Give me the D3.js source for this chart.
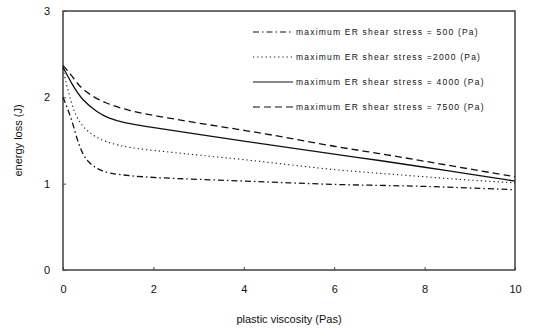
<!DOCTYPE html>
<html>
<head>
<script src="https://d3js.org/d3.v7.min.js"></script>
<style>
  body { margin: 0; background: #fff; }
  text { font-family: "Liberation Sans", Arial, sans-serif; fill: #111; }
  .legend text { font-size: 8.5px; letter-spacing: 1.2px; }
</style>
</head>
<body>
<svg id="chart" width="540" height="328"></svg>
<script>
// values
var visc500  = [0, 0.2, 0.33, 0.5, 0.75, 1, 1.5, 2, 3, 4, 5, 6, 7, 8, 9, 10];
var loss500  = [2.0, 1.74, 1.47, 1.27, 1.17, 1.12, 1.09, 1.07, 1.05, 1.03, 1.01, 0.99, 0.98, 0.97, 0.95, 0.93];

var visc2000 = [0, 0.1, 0.27, 0.55, 0.93, 1.5, 2.3, 3, 4, 5, 6, 7, 8, 9, 10];
var loss2000 = [2.33, 2.1, 1.77, 1.59, 1.48, 1.41, 1.37, 1.33, 1.28, 1.22, 1.16, 1.12, 1.08, 1.04, 1.01];

var visc4000 = [0, 0.2, 0.42, 0.77, 1, 1.3, 2, 3, 4, 5, 6, 7, 8, 9, 10];
var loss4000 = [2.35, 2.15, 1.97, 1.82, 1.76, 1.71, 1.65, 1.57, 1.49, 1.42, 1.34, 1.27, 1.19, 1.11, 1.03];

var visc7500 = [0, 0.2, 0.42, 0.93, 1.5, 2, 3, 4, 5, 6, 7, 8, 9, 10];
var loss7500 = [2.37, 2.25, 2.08, 1.93, 1.84, 1.79, 1.70, 1.62, 1.53, 1.43, 1.35, 1.26, 1.17, 1.08];

var seriesNames = [
  "maximum ER shear stress  =  500 (Pa)",
  "maximum ER shear stress  =2000 (Pa)",
  "maximum ER shear stress  = 4000 (Pa)",
  "maximum ER shear stress  = 7500 (Pa)"
];
var dashes = ["6,3,1.5,3", "1.2,3", null, "7,4"];

var xTicks = [0, 2, 4, 6, 8, 10];
var yTicks = [0, 1, 2, 3];

var svg = d3.select("#chart");
var plotLeft = 63, plotRight = 515, plotTop = 11, plotBottom = 270;

var x = d3.scaleLinear().domain([0, 10]).range([plotLeft, plotRight]);
var y = d3.scaleLinear().domain([0, 3]).range([plotBottom, plotTop]);

// frame
svg.append("rect")
  .attr("x", plotLeft).attr("y", plotTop)
  .attr("width", plotRight - plotLeft).attr("height", plotBottom - plotTop)
  .attr("fill", "none").attr("stroke", "#222").attr("stroke-width", 1.3);

// axes (small inward ticks)
var xAxis = svg.append("g")
  .attr("transform", "translate(0," + plotBottom + ")")
  .call(d3.axisBottom(x).tickValues(xTicks).tickSize(-3).tickPadding(13).tickFormat(d3.format("d")));
var yAxis = svg.append("g")
  .attr("transform", "translate(" + plotLeft + ",0)")
  .call(d3.axisLeft(y).tickValues(yTicks).tickSize(-3).tickPadding(13).tickFormat(d3.format("d")));

[xAxis, yAxis].forEach(function (g) {
  g.select(".domain").remove();
  g.selectAll("line").attr("stroke", "#444");
  g.selectAll("text").attr("font-size", 11).attr("font-family", "Liberation Sans, Arial, sans-serif").attr("fill", "#111");
});
xAxis.selectAll("text").attr("dy", "0.9em");

svg.append("text")
  .attr("x", (plotLeft + plotRight) / 2).attr("y", 323)
  .attr("text-anchor", "middle").attr("font-size", 11)
  .text("plastic viscosity (Pas)");

svg.append("text")
  .attr("transform", "translate(22," + ((plotTop + plotBottom) / 2) + ") rotate(-90)")
  .attr("text-anchor", "middle").attr("font-size", 11)
  .text("energy loss (J)");

// curves
var series = [
  d3.zip(visc500, loss500),
  d3.zip(visc2000, loss2000),
  d3.zip(visc4000, loss4000),
  d3.zip(visc7500, loss7500)
];

var line = d3.line()
  .x(function (d) { return x(d[0]); })
  .y(function (d) { return y(d[1]); })
  .curve(d3.curveBasis);

svg.selectAll(".curve")
  .data(series)
  .enter().append("path")
  .attr("class", "curve")
  .attr("d", line)
  .attr("fill", "none")
  .attr("stroke", "#111")
  .attr("stroke-width", function (d, i) { return i == 1 ? 1.1 : 1.3; })
  .attr("stroke-dasharray", function (d, i) { return dashes[i]; });

// legend
var legend = svg.append("g").attr("class", "legend");
var rows = legend.selectAll("g")
  .data(seriesNames)
  .enter().append("g")
  .attr("transform", function (d, i) { return "translate(253," + (32 + i * 25) + ")"; });

rows.append("line")
  .attr("x1", 0).attr("x2", 40)
  .attr("stroke", "#111").attr("stroke-width", 1.2)
  .attr("stroke-dasharray", function (d, i) { return dashes[i]; });

rows.append("text")
  .attr("x", 43).attr("dy", "0.35em")
  .text(function (d) { return d; });
</script>
</body>
</html>
